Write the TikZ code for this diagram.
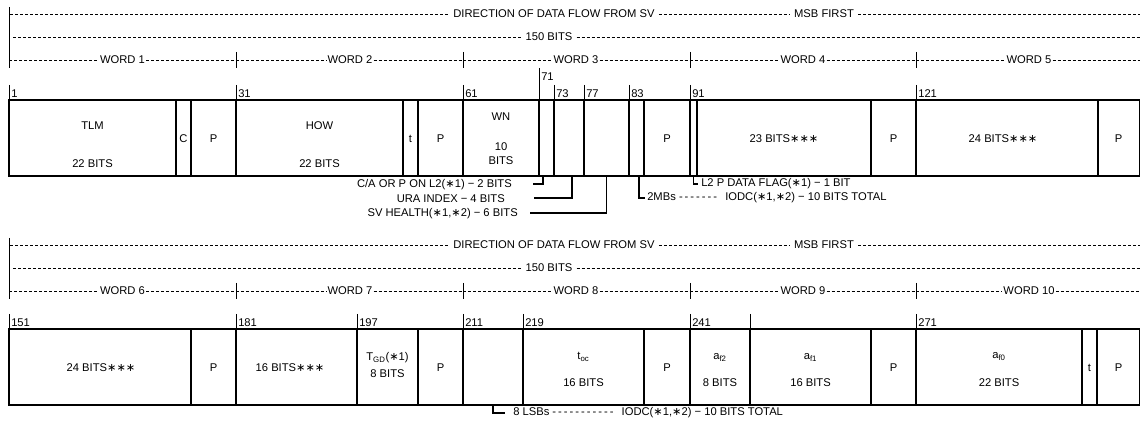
\documentclass[tikz,border=0pt]{standalone}
\usepackage{fontspec}
\setmainfont{Liberation Sans}
\newfontfamily\djv{DejaVu Sans}
\usetikzlibrary{fit}
\newcommand\hh{\mbox{-}\kern1.5pt}
\newcommand\st{{\djv\char"2217}}
\begin{document}
\begin{tikzpicture}[x=0.75pt,y=-0.75pt,
  fld/.style={draw,line width=0.8pt,inner sep=0pt},
  lbl/.style={font=\fontsize{8.4}{10}\selectfont,inner sep=0pt,align=center},
  gap/.style={lbl,inner sep=3pt},
  wgap/.style={lbl,inner sep=0.8pt},
  num/.style={lbl,anchor=west},
  dl/.style={line width=0.5pt,dash pattern=on 2.25pt off 1.5pt},
  tk/.style={line width=0.7pt},
  br/.style={line width=1pt},
]
\useasboundingbox (0,0) rectangle (1140,424);

% ---------- dashed header rows ----------
\foreach \o/\k/\n in {0/1/0,231/2/5}{
  \draw[tk] (9,7+\o) -- (9,68+\o);
  \node[gap] (dir\k) at (554,14+\o) {DIRECTION OF DATA FLOW FROM SV};
  \node[gap] (msb\k) at (824,14+\o) {MSB FIRST};
  \draw[dl] (10,14+\o) -- (dir\k.west);
  \draw[dl] (dir\k.east) -- (msb\k.west);
  \draw[dl] (msb\k.east) -- (1140,14+\o);
  \node[gap] (bits\k) at (549,37+\o) {150 BITS};
  \draw[dl] (13,37+\o) -- (bits\k.west);
  \draw[dl] (bits\k.east) -- (1140,37+\o);
  \foreach \a/\b/\c [count=\j] in {9/236/122.5,236/463/350,463/690/576,690/916/803,916/1140/1029}{
    \pgfmathtruncatemacro\w{\j+\n}
    \node[wgap] (w\w) at (\c,60+\o) {WORD \w};
    \draw[dl] (\a,60+\o) -- (w\w.west);
    \draw[dl] (w\w.east) -- (\b,60+\o);
  }
  \foreach \x in {236,463,690,916} \draw[tk] (\x,52+\o) -- (\x,68+\o);
}

% ---------- row 1 ----------
\foreach \a/\b [count=\i] in {9/176,176/191,191/236,236/403,403/418,418/463,463/539,539/554,554/584,584/629,629/644,644/690,690/697,697/871,871/916,916/1098,1098/1139.5}
  \node[fld,fit={(\a,100) (\b,176)}] (a\i) {};

\foreach \x/\t in {9/1,236/31,463/61,554/73,584/77,629/83,690/91,916/121}{
  \draw[tk] (\x,85) -- (\x,100);
  \node[num] (n\t) at (\x+2,93.5) {\t};
}
\draw[tk] (539,68) -- (539,100);
\node[num] (n71) at (541,77) {71};

\node[lbl] (tlm) at (92.5,126) {TLM};
\node[lbl] (tlmb) at (92.5,164) {22 BITS};
\node[lbl] (c1) at (183.5,139) {C};
\node[lbl] (p1) at (213.5,139) {P};
\node[lbl] (how) at (319.5,126) {HOW};
\node[lbl] (howb) at (319.5,164) {22 BITS};
\node[lbl] (t1) at (410.5,139) {t};
\node[lbl] (p2) at (440.5,139) {P};
\node[lbl] (wn) at (501,117) {WN};
\node[lbl] (wn10) at (501,147) {10};
\node[lbl] (wnb) at (501,161) {BITS};
\node[lbl] (p3) at (667,139) {P};
\node[lbl] (w4b) at (784,139) {23 BITS\st\st\st};
\node[lbl] (p4) at (893.5,139) {P};
\node[lbl] (w5b) at (1003,139) {24 BITS\st\st\st};
\node[lbl] (p5) at (1118.5,139) {P};

% annotations row 1
\node[lbl,anchor=east] (ca) at (512,185) {C/A OR P ON L2(\st1) − 2 BITS};
\coordinate (caL) at (533,184);
\draw[br] (caL) -| ([xshift=-2.6pt]a8.south);
\node[lbl,anchor=east] (ura) at (505,199) {URA INDEX − 4 BITS};
\coordinate (uraL) at (534,198);
\draw[br] (uraL) -| ([xshift=2.2pt]a9.south);
\node[lbl,anchor=east] (sv) at (518,214) {SV HEALTH(\st1,\st2) − 6 BITS};
\coordinate (svL) at (530,213);
\draw[br] (svL) -| (a10.south);
\node[lbl,anchor=west] (mbs) at (647,198) {2MBs \hh\hh\hh\hh\hh\hh\hh\ \ IODC(\st1,\st2) − 10 BITS TOTAL};
\coordinate (mbsL) at (645,198);
\draw[br] ([xshift=1.9pt]a11.south) |- (mbsL);
\node[lbl,anchor=west] (flag) at (701,184) {L2 P DATA FLAG(\st1) − 1 BIT};
\coordinate (flagL) at (698,184);
\draw[br] (a13.south) |- (flagL);

% ---------- row 2 ----------
\foreach \a/\b [count=\i] in {9/191,191/236,236/357,357/418,418/463,463/523,523/644,644/690,690/750,750/871,871/916,916/1082,1082/1097,1097/1139.5}
  \node[fld,fit={(\a,329) (\b,405)}] (b\i) {};

\foreach \x/\t in {9/151,236/181,357/197,463/211,523/219,690/241,916/271}{
  \draw[tk] (\x,314) -- (\x,329);
  \node[num] (n\t) at (\x+2,322.5) {\t};
}
\draw[tk] (750,314) -- (750,329);

\node[lbl] (w6b) at (101,368) {24 BITS\st\st\st};
\node[lbl] (q1) at (213.5,368) {P};
\node[lbl] (w7b) at (290,368) {16 BITS\st\st\st};
\node[lbl] (tgd) at (387.5,358) {T\textsubscript{GD}(\st1)};
\node[lbl] (tgdb) at (387.5,374) {8 BITS};
\node[lbl] (q2) at (440.5,368) {P};
\node[lbl] (toc) at (583.5,357) {t\textsubscript{oc}};
\node[lbl] (tocb) at (583.5,383) {16 BITS};
\node[lbl] (q3) at (667,368) {P};
\node[lbl] (af2) at (720,357) {a\textsubscript{f2}};
\node[lbl] (af2b) at (720,383) {8 BITS};
\node[lbl] (af1) at (810.5,357) {a\textsubscript{f1}};
\node[lbl] (af1b) at (810.5,383) {16 BITS};
\node[lbl] (q4) at (893.5,368) {P};
\node[lbl] (af0) at (999,357) {a\textsubscript{f0}};
\node[lbl] (af0b) at (999,383) {22 BITS};
\node[lbl] (t2) at (1089.5,368) {t};
\node[lbl] (q5) at (1118.5,368) {P};

% annotation row 2
\node[lbl,anchor=west] (lsb) at (513,413) {8 LSBs \hh\hh\hh\hh\hh\hh\hh\hh\hh\hh\hh\ \ IODC(\st1,\st2) − 10 BITS TOTAL};
\coordinate (lsbL) at (505,413);
\draw[br] (b6.south) |- (lsbL);
\end{tikzpicture}
\end{document}
